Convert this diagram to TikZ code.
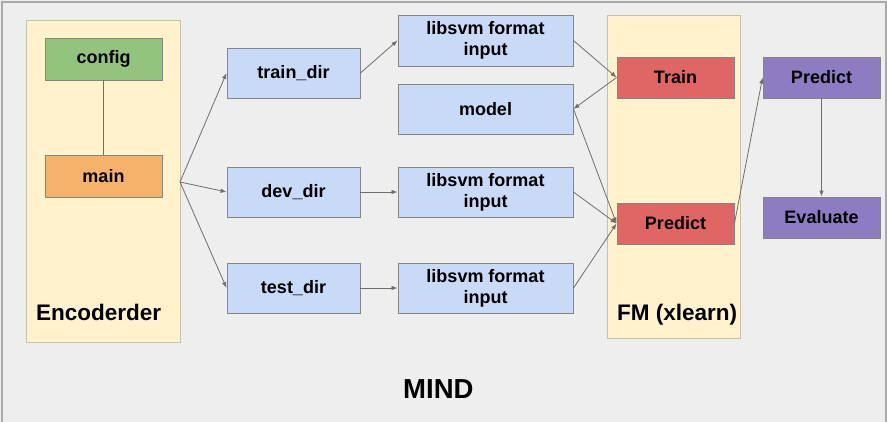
\documentclass[tikz,border=0pt]{standalone}
\usepackage{fontspec}
\setmainfont{Liberation Sans}
\usetikzlibrary{arrows.meta}
\definecolor{bgc}{HTML}{EEEEEE}
\definecolor{framec}{HTML}{A9A9A9}
\definecolor{grpfill}{HTML}{FFF2CC}
\definecolor{grpdraw}{HTML}{C9C1A6}
\definecolor{bluefill}{HTML}{C9DAF8}
\definecolor{greenfill}{HTML}{93C47D}
\definecolor{orangefill}{HTML}{F6B26B}
\definecolor{redfill}{HTML}{E06666}
\definecolor{purplefill}{HTML}{8E7CC3}
\definecolor{boxdraw}{HTML}{858585}
\definecolor{arrowc}{HTML}{6E6E6E}
\tikzset{
  boxbase/.style={draw=boxdraw, line width=0.9pt, inner sep=0pt, align=center,
    font=\fontsize{18}{21}\selectfont\bfseries},
  bluebox/.style={boxbase, fill=bluefill},
  smallbox/.style={boxbase, minimum width=117, minimum height=42},
  grpbox/.style={draw=grpdraw, line width=0.9pt, fill=grpfill, inner sep=0pt},
  conn/.style={draw=arrowc, line width=0.8pt, -{Latex[length=6pt,width=4.5pt]}},
  plainconn/.style={draw=arrowc, line width=0.8pt},
  biglabel/.style={inner sep=0pt, anchor=base west, font=\fontsize{22.5}{26}\selectfont\bfseries},
}
\begin{document}
\begin{tikzpicture}[x=1pt,y=-1pt]
\useasboundingbox (0,0) rectangle (887,422);
\fill[bgc] (0,0) rectangle (887,422);
\draw[framec, line width=1.2pt] (2,424) -- (2,2) -- (886,2) -- (886,424);

% groups
\node[grpbox, minimum width=154, minimum height=322] (enc) at (103,181) {};
\node[grpbox, minimum width=133, minimum height=323] (fm) at (673.5,176.5) {};
\node[biglabel] (enclabel) at (36,321) {Encoderder};
\node[biglabel] (fmlabel) at (617,321) {FM (xlearn)};
\node[inner sep=0pt, anchor=base west, font=\fontsize{27.5}{30}\selectfont\bfseries] (mind) at (403,399) {MIND};

% encoder contents
\node[smallbox, fill=greenfill] (config) at (103.5,59) {config};
\node[smallbox, fill=orangefill] (main) at (103.5,176) {main};
\draw[plainconn] (config) -- (main);

% dirs
\node[bluebox, minimum width=133, minimum height=50] (traindir) at (293.5,73) {train\_dir};
\node[bluebox, minimum width=133, minimum height=50] (devdir) at (293.5,192) {dev\_dir};
\node[bluebox, minimum width=133, minimum height=50] (testdir) at (293.5,288) {test\_dir};

% libsvm
\node[bluebox, minimum width=175, minimum height=51] (lib1) at (485.5,40.5) {libsvm format\\input};
\node[bluebox, minimum width=175, minimum height=50] (model) at (485.5,109) {model};
\node[bluebox, minimum width=175, minimum height=50] (lib2) at (485.5,192) {libsvm format\\input};
\node[bluebox, minimum width=175, minimum height=50] (lib3) at (485.5,288) {libsvm format\\input};

% FM
\node[smallbox, fill=redfill, minimum height=41] (train) at (675.5,77.5) {Train};
\node[smallbox, fill=redfill, minimum height=41] (predr) at (675.5,223.5) {Predict};

% purple
\node[smallbox, fill=purplefill, minimum height=41] (predp) at (821.5,77.5) {Predict};
\node[smallbox, fill=purplefill, minimum height=41] (eval) at (821.5,217.5) {Evaluate};

% arrows
\coordinate (fork) at (180,182);
\draw[conn] (fork) -- (traindir.west);
\draw[conn] (fork) -- (devdir.west);
\draw[conn] (fork) -- (testdir.west);
\draw[conn] (traindir.east) -- (lib1.west);
\draw[conn] (devdir.east) -- (lib2.west);
\draw[conn] (testdir.east) -- (lib3.west);
\draw[conn] (lib1.east) -- (train.west);
\draw[conn] (train.west) -- (model.east);
\draw[conn] (model.east) -- (predr.west);
\draw[conn] (lib2.east) -- (predr.west);
\draw[conn] (lib3.east) -- (predr.west);
\draw[conn] (predr.east) -- (predp.west);
\draw[conn] (predp.south) -- (eval.north);
\end{tikzpicture}
\end{document}
